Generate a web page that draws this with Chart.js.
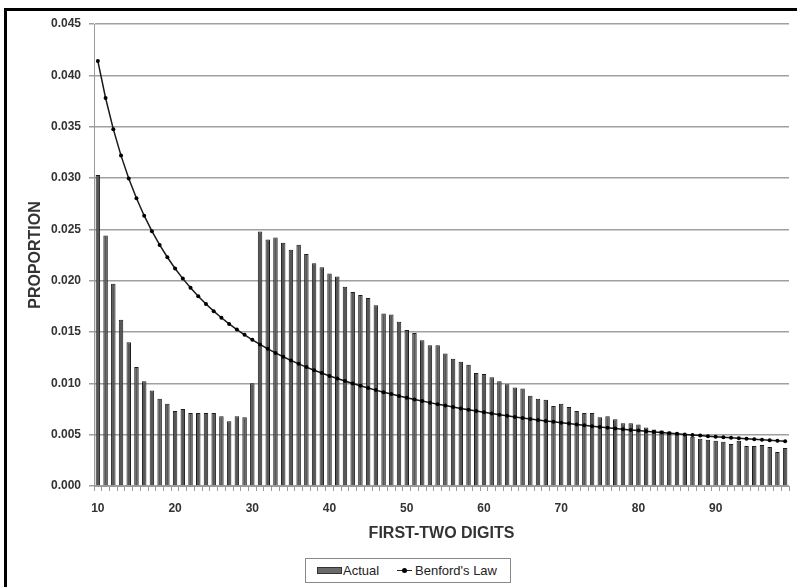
<!DOCTYPE html>
<html>
<head>
<meta charset="utf-8">
<script src="https://cdn.jsdelivr.net/npm/chart.js@4"></script>
<style>
html,body{margin:0;padding:0;background:#fff;overflow:hidden;}
#wrap{position:relative;width:797px;height:587px;overflow:hidden;background:#fff;}
#frame{position:absolute;left:4px;top:8px;width:1000px;height:1000px;border:3px solid #000;box-sizing:border-box;}
#c{position:absolute;left:0;top:0;}
#legend{position:absolute;left:305px;top:558px;width:206px;height:25px;border:1px solid #8a8a8a;box-sizing:border-box;background:#fff;font:13px "Liberation Sans",Arial,sans-serif;color:#222;}
#legend .sw{position:absolute;left:11px;top:8px;width:25px;height:7px;background:#6a6a6a;border:1px solid #333;box-sizing:border-box;}
#legend .t1{position:absolute;left:37px;top:4px;line-height:15px;}
#legend .ln{position:absolute;left:91px;top:11px;width:15px;height:0;border-top:1.5px solid #222;}
#legend .dot{position:absolute;left:96px;top:9px;width:5px;height:5px;border-radius:50%;background:#000;}
#legend .t2{position:absolute;left:109px;top:4px;line-height:15px;}
</style>
</head>
<body>
<div id="wrap">
  <div id="frame"></div>
  <canvas id="c" width="797" height="587"></canvas>
  <div id="legend">
    <div class="sw"></div><span class="t1">Actual</span>
    <div class="ln"></div><div class="dot"></div><span class="t2">Benford's Law</span>
  </div>
</div>
<script>
const categories = [
  '10','11','12','13','14','15','16','17','18','19',
  '20','21','22','23','24','25','26','27','28','29',
  '30','31','32','33','34','35','36','37','38','39',
  '40','41','42','43','44','45','46','47','48','49',
  '50','51','52','53','54','55','56','57','58','59',
  '60','61','62','63','64','65','66','67','68','69',
  '70','71','72','73','74','75','76','77','78','79',
  '80','81','82','83','84','85','86','87','88','89',
  '90','91','92','93','94','95','96','97','98','99'
];
const actual = [
  0.0303,0.0244,0.0197,0.0162,0.0140,0.0116,0.0102,0.0093,0.0085,0.0080,
  0.0073,0.0075,0.0071,0.0071,0.0071,0.0071,0.0068,0.0063,0.0068,0.0067,
  0.0100,0.0248,0.0240,0.0242,0.0237,0.0230,0.0235,0.0226,0.0217,0.0213,
  0.0207,0.0204,0.0194,0.0189,0.0186,0.0183,0.0176,0.0168,0.0167,0.0160,
  0.0152,0.0149,0.0142,0.0137,0.0137,0.0129,0.0124,0.0121,0.0118,0.0110,
  0.0109,0.0106,0.0102,0.0099,0.0096,0.0095,0.0088,0.0085,0.0084,0.0078,
  0.0080,0.0077,0.0073,0.0071,0.0071,0.0067,0.0068,0.0065,0.0061,0.0061,
  0.0060,0.0057,0.0055,0.0054,0.0053,0.0052,0.0051,0.0048,0.0046,0.0045,
  0.0044,0.0043,0.0041,0.0044,0.0039,0.0039,0.0040,0.0038,0.0033,0.0037
];
const benford = [
  0.04139,0.03779,0.03476,0.03218,0.02996,0.02803,0.02633,0.02482,0.02348,0.02228,
  0.02119,0.02020,0.01931,0.01848,0.01773,0.01703,0.01639,0.01579,0.01524,0.01472,
  0.01424,0.01379,0.01336,0.01296,0.01259,0.01223,0.01190,0.01158,0.01128,0.01100,
  0.01072,0.01047,0.01022,0.00998,0.00976,0.00955,0.00934,0.00914,0.00896,0.00877,
  0.00860,0.00843,0.00827,0.00812,0.00797,0.00783,0.00769,0.00755,0.00742,0.00730,
  0.00718,0.00706,0.00695,0.00684,0.00673,0.00663,0.00653,0.00644,0.00634,0.00625,
  0.00616,0.00608,0.00599,0.00591,0.00583,0.00575,0.00568,0.00560,0.00553,0.00546,
  0.00540,0.00533,0.00526,0.00520,0.00514,0.00508,0.00502,0.00496,0.00491,0.00485,
  0.00480,0.00475,0.00470,0.00465,0.00460,0.00455,0.00450,0.00445,0.00441,0.00436
];
const xTickLabels = ['10','20','30','40','50','60','70','80','90'];
const yTicks = [0,0.005,0.010,0.015,0.020,0.025,0.030,0.035,0.040,0.045];

const FONT = '"Liberation Sans", Arial, sans-serif';

new Chart(document.getElementById('c'), {
  data: {
    labels: categories,
    datasets: [
      {
        type: 'line',
        label: "Benford's Law",
        data: benford,
        borderColor: '#1a1a1a',
        borderWidth: 1.5,
        pointRadius: 2,
        pointBackgroundColor: '#000',
        pointBorderWidth: 0,
        tension: 0,
        order: 1
      },
      {
        type: 'bar',
        label: 'Actual',
        data: actual,
        backgroundColor: '#575757',
        borderColor: '#1c1c1c',
        borderWidth: 1,
        barPercentage: 0.58,
        categoryPercentage: 1.0,
        order: 2
      }
    ]
  },
  options: {
    responsive: false,
    animation: false,
    layout: { padding: { left: 8, right: 8, top: 24, bottom: 43.6 } },
    plugins: { legend: { display: false }, tooltip: { enabled: false } },
    scales: {
      x: {
        grid: { display: true, drawOnChartArea: false, drawTicks: true, tickLength: 5, color: '#9a9a9a', lineWidth: 1 },
        border: { display: true, color: '#9a9a9a', width: 1 },
        ticks: {
          autoSkip: false, maxRotation: 0, minRotation: 0, padding: 10, color: '#333',
          font: { family: FONT, size: 12, weight: 'bold' },
          callback: function (v) {
            const l = this.getLabelForValue(v);
            return xTickLabels.includes(l) ? l : '';
          }
        },
        title: { display: true, text: 'FIRST-TWO DIGITS', color: '#333', font: { family: FONT, size: 16, weight: 'bold' }, padding: { top: 0, bottom: 0 } },
        afterFit: s => { s.height = 57.4; }
      },
      y: {
        min: 0, max: 0.045,
        afterBuildTicks: s => { s.ticks = yTicks.map(v => ({ value: v })); },
        ticks: {
          padding: 8, color: '#333',
          font: { family: FONT, size: 12, weight: 'bold' },
          callback: v => Number(v).toFixed(3)
        },
        grid: { color: '#a0a0a0', lineWidth: 1.5, tickLength: 5 },
        border: { display: true, color: '#9a9a9a', width: 1 },
        title: { display: true, text: 'PROPORTION', color: '#333', font: { family: FONT, size: 16, weight: 'bold' }, padding: { top: 17.6, bottom: 0 } },
        afterFit: s => { s.width = 86; }
      }
    }
  }
});
</script>
</body>
</html>
